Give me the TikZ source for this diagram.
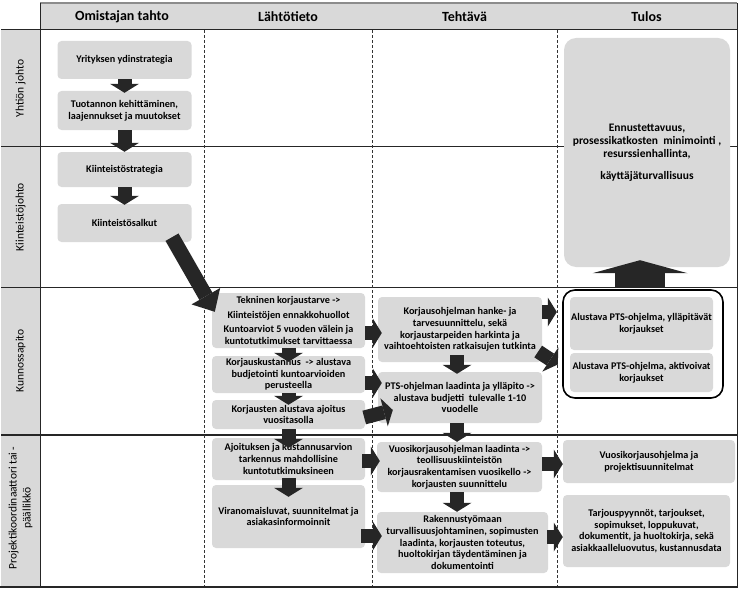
\documentclass[tikz,border=0pt]{standalone}
\usepackage{fontspec}
\setmainfont{Carlito}
\usetikzlibrary{positioning,arrows.meta,calc}
\newdimen\shaftW
\shaftW=14pt
\definecolor{boxgray}{RGB}{217,217,217}
\definecolor{lanegray}{RGB}{217,217,217}
\definecolor{arrowblack}{RGB}{38,38,38}

\begin{document}
\begin{tikzpicture}[
    x=1pt, y=-1pt,
    box/.style 2 args={%
      fill=boxgray,
      rounded corners=4pt,
      align=center,
      inner sep=1pt,
      minimum width=#1,
      minimum height=#2,
      font=\bfseries\fontsize{10.2}{11.6}\selectfont,
    },
    arr/.style={%
      draw=arrowblack,
      line width=\shaftW,
      -{Triangle[length=9pt,width=29pt,line width=0pt]},
    },
    bigarr/.style={%
      draw=arrowblack,
      line width=15pt,
      -{Triangle[length=18pt,width=33pt,line width=0pt]},
    },
    uparr/.style={%
      draw=arrowblack,
      line width=50pt,
      -{Triangle[length=13pt,width=95pt,line width=0pt]},
    },
    colhead/.style={font=\bfseries\fontsize{14}{16}\selectfont},
    lane/.style={rotate=90, align=center, font=\fontsize{11.5}{14}\selectfont},
    rowline/.style={draw=black!85, line width=#1},
    dashsep/.style={draw=black!80, line width=0.9pt, dash pattern=on 3pt off 2pt},
  ]

    \useasboundingbox (0,0) rectangle (743,591);

    \fill[lanegray] (40,3) rectangle (737,30);
    \fill[lanegray] (1,30) rectangle (40,587);
    \draw[rowline=1.5pt, draw=black!45] (40,3) -- (737,3);
    \draw[rowline=1pt] (1,30) -- (737,30);
    \draw[rowline=1pt] (1,146) -- (737,146);
    \draw[rowline=1.6pt] (1,287.5) -- (737,287.5);
    \draw[rowline=1.6pt] (1,435) -- (737,435);
    \draw[rowline=1pt] (40,3) -- (40,587);
    \draw[rowline=1pt] (737,3) -- (737,587);
    \foreach \x in {204,372,557} \draw[dashsep] (\x,30) -- (\x,587);
    \draw[rowline=2.8pt] (0,587) -- (738,587);

    \node [colhead] (H1) at (122,17) {Omistajan tahto};
    \path (H1) ++(166,0) node [colhead] (H2) {Lähtötieto};
    \path (H2) ++(176.5,0) node [colhead] (H3) {Tehtävä};
    \path (H3) ++(182,0) node [colhead] (H4) {Tulos};

    \node [lane] (Y1) at (20.5,88.5) {Yhtiön johto};
    \node [lane] (Y2) at (20.5,217) {Kiinteistöjohto};
    \node [lane] (Y3) at (20.5,361) {Kunnossapito};
    \node [lane] (Y4) at (20.5,508) {Projektikoordinaattori tai -\\ päällikkö};

    \node [box={134pt}{38pt}] (O1) at (124.5,60) {Yrityksen ydinstrategia};
    \path (O1) ++(0,50.5) node [box={134pt}{39pt}] (O2) {Tuotannon kehittäminen,\\ laajennukset ja muutokset};
    \path (O2) ++(0,59) node [box={134pt}{35pt}] (O3) {Kiinteistöstrategia};
    \path (O3) ++(0,53.5) node [box={134pt}{38pt}] (O4) {Kiinteistösalkut};

    \node [box={153pt}{55pt}] (L1) at (288.5,320.5) {Tekninen korjaustarve ->\\[3pt] Kiinteistöjen ennakkohuollot\\[3pt] Kuntoarviot 5 vuoden välein ja\\ kuntotutkimukset tarvittaessa};
    \path (L1) ++(0,54) node [box={153pt}{37pt}] (L2) {Korjauskustannus ~-> alustava\\ budjetointi kuntoarvioiden\\ perusteella};
    \path (L2) ++(0,40) node [box={153pt}{29pt}] (L3) {Korjausten alustava ajoitus\\ vuositasolla};
    \path (L3) ++(0,44.5) node [box={153pt}{42pt}] (L4) {Ajoituksen ja kustannusarvion\\ tarkennus mahdollisine\\ kuntotutkimuksineen};
    \path (L4) ++(0,57.5) node [box={153pt}{63pt}] (L5) {Viranomaisluvat, suunnitelmat ja\\ asiakasinformoinnit};

    \node [box={164pt}{65pt}] (T1) at (460,329.5) {Korjausohjelman hanke- ja\\ tarvesuunnittelu, sekä\\ korjaustarpeiden harkinta ja\\ vaihtoehtoisten ratkaisujen tutkinta};
    \path (T1) ++(0,68) node [box={164pt}{51pt}] (T2) {PTS-ohjelman laadinta ja ylläpito ->\\ alustava budjetti ~tulevalle 1-10\\ vuodelle};
    \path (T2) ++(-0.5,69.5) node [box={165pt}{50pt}] (T3) {Vuosikorjausohjelman laadinta ->\\ teollisuuskiinteistön\\ korjausrakentamisen vuosikello ->\\ korjausten suunnittelu};
    \path (T3) ++(3,75.5) node [box={171pt}{61pt}] (T4) {Rakennustyömaan\\ turvallisuusjohtaminen, sopimusten\\ laadinta, korjausten toteutus,\\ huoltokirjan täydentäminen ja\\ dokumentointi};

    \node [box={166pt}{229pt}, rounded corners=12pt, font=\bfseries\fontsize{11.5}{13}\selectfont] (R0) at (647,152.5) {Ennustettavuus,\\ prosessikatkosten ~minimointi ,\\ resurssienhallinta,\\[9pt] käyttäjäturvallisuus};
    \node [draw=black, line width=1.6pt, rounded corners=12pt, minimum width=160pt, minimum height=108pt] (G) at (643,344) {};
    \node [box={143pt}{53pt}] (R1) at (641.5,323.5) {Alustava PTS-ohjelma, ylläpitävät\\ korjaukset};
    \path (R1) ++(0,49) node [box={143pt}{39pt}] (R2) {Alustava PTS-ohjelma, aktivoivat\\ korjaukset};
    \node [box={172pt}{43pt}] (R3) at (649,461.5) {Vuosikorjausohjelma ja\\ projektisuunnitelmat};
    \path (R3) ++(-2.5,69.5) node [box={167pt}{72pt}] (R4) {Tarjouspyynnöt, tarjoukset,\\ sopimukset, loppukuvat,\\ dokumentit, ja huoltokirja, sekä\\ asiakkaalleluovutus, kustannusdata};

    \draw [arr] (O1.south) -- ($(O2.north)+(0,2)$);
    \draw [arr] (O2.south) -- (O3.north);
    \draw [arr] (O3.south) -- ($(O4.north)+(0,1)$);
    \draw [bigarr] ($(O4.south)+(47.5,-5)$) -- ($(L1.north west)+(3,19)$);

    \draw [arr] (L1.south) -- ($(L2.north)+(0,6)$);
    \draw [arr] (L2.south) -- ($(L3.north)+(0,5)$);
    \draw [arr] (L3.south) -- ($(L4.north)+(0,10)$);
    \draw [arr] ($(L4.south)+(0,-2)$) -- ($(L5.north)+(0,12)$);

    \draw [arr] ($(T1.south)+(-3,-7)$) -- ($(T2.north)+(-3,2)$);
    \draw [arr] ($(T2.south)+(-3,0)$) -- ($(T2.south |- T3.north)+(-3,0)$);
    \draw [arr] ($(T3.south)+(-2.5,0)$) -- ($(T3.south |- T4.north)+(-2.5,0)$);

    \draw [arr] ($(L1.east)+(0,12.5)$) -- ($(T1.west)+(4,3.5)$);
    \draw [arr] ($(L2.east)+(0,8.5)$) -- ($(T2.west)+(4,-14.5)$);
    \draw [arr] ($(L3.east)+(-1,3)$) -- ($(T2.west)+(15,12.5)$);
    \draw [arr] ($(L4.east)+(-3,2)$) -- ($(T3.west)+(3,-6)$);
    \draw [arr] ($(L5.east)+(-4,19.5)$) -- ($(T4.west)+(5,-6.5)$);

    \draw [arr] ($(T1.east)+(0,-17.5)$) -- ($(R1.west)+(-13,-11.5)$);
    \draw [arr] ($(T1.east)+(-4,22)$) -- ($(R2.west)+(-12,-8)$);
    \draw [arr] ($(T3.east)+(0,-3)$) -- ($(R3.west)+(0,2.5)$);
    \draw [arr] ($(T4.east)+(-1,-5.5)$) -- ($(R4.west)+(0,6)$);
    \draw [uparr] ($(G.north)+(-3,-1)$) -- ($(R0.south)+(-7,-7)$);
\end{tikzpicture}
\end{document}
